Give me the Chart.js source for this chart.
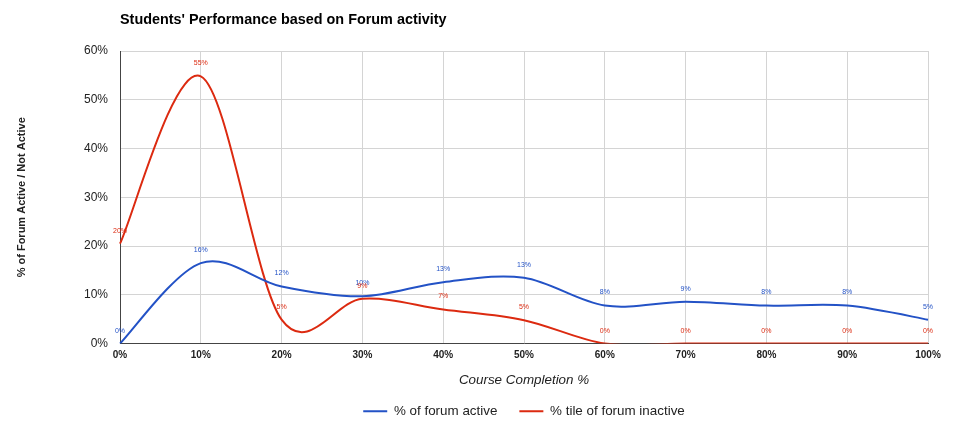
<!DOCTYPE html>
<html>
<head>
<meta charset="utf-8">
<script src="https://cdn.jsdelivr.net/npm/chart.js@4"></script>
<style>
  html, body { margin: 0; padding: 0; background: #fff; }
  #wrap { width: 975px; height: 423px; }
</style>
</head>
<body>
<div id="wrap"><canvas id="chart"></canvas></div>
<script>
// ── Data ──────────────────────────────────
const completion  = ['0%', '10%', '20%', '30%', '40%', '50%', '60%', '70%', '80%', '90%', '100%'];
const forumActive = [0, 16.5, 11.7, 9.7, 12.6, 13.5, 7.8, 8.6, 7.8, 7.8, 4.9];
const forumInactive = [20.5, 54.8, 4.9, 9.2, 7, 4.8, 0, 0, 0, 0, 0];
const activeLabels   = ['0%', '16%', '12%', '10%', '13%', '13%', '8%', '9%', '8%', '8%', '5%'];
const inactiveLabels = ['20%', '55%', '5%', '9%', '7%', '5%', '0%', '0%', '0%', '0%', '0%'];
const yTicks = [0, 10, 20, 30, 40, 50, 60];

const FONT = 'Arial, "Liberation Sans", sans-serif';
const BLUE = '#2352c6';
const RED  = '#dc2a10';

// ── Title drawn at the plot's left edge ───
const titlePlugin = {
  id: 'leftTitle',
  beforeDraw(chart) {
    // centre the legend on the plot area, not the whole canvas
    const { legend, chartArea } = chart;
    if (legend) {
      legend.left = chartArea.left;
      legend.right = chartArea.right;
    }
  },
  afterDraw(chart) {
    const { ctx, chartArea } = chart;
    ctx.save();
    ctx.font = 'bold 14.4px ' + FONT;
    ctx.fillStyle = '#000';
    ctx.textAlign = 'left';
    ctx.textBaseline = 'middle';
    ctx.fillText("Students' Performance based on Forum activity", chartArea.left, 20);
    ctx.restore();
  }
};

// ── Catmull-Rom smoothing (uniform in x) ──
const smoothPlugin = {
  id: 'catmullRom',
  beforeDatasetsDraw(chart) {
    chart.data.datasets.forEach((ds, di) => {
      const meta = chart.getDatasetMeta(di);
      meta.dataset.updateControlPoints(chart.chartArea);
      const pts = meta.data;
      pts.forEach((p, i) => {
        const prev = pts[Math.max(i - 1, 0)];
        const next = pts[Math.min(i + 1, pts.length - 1)];
        const dx = (next.x - prev.x) / 6;
        const dy = (next.y - prev.y) / 6;
        p.cp1x = p.x - dx; p.cp1y = p.y - dy;
        p.cp2x = p.x + dx; p.cp2y = p.y + dy;
      });
    });
  }
};

// ── Point value labels ────────────────────
const valueLabels = [activeLabels, inactiveLabels];
const pointLabelPlugin = {
  id: 'pointLabels',
  afterDatasetsDraw(chart) {
    const { ctx } = chart;
    ctx.save();
    ctx.font = '7px ' + FONT;
    ctx.textAlign = 'center';
    ctx.textBaseline = 'middle';
    chart.data.datasets.forEach((ds, di) => {
      const meta = chart.getDatasetMeta(di);
      ctx.fillStyle = ds.borderColor;
      meta.data.forEach((pt, i) => {
        ctx.fillText(valueLabels[di][i], pt.x, pt.y - 13);
      });
    });
    ctx.restore();
  }
};

new Chart(document.getElementById('chart'), {
  type: 'line',
  data: {
    labels: completion,
    datasets: [
      {
        label: '% of forum active',
        data: forumActive,
        borderColor: BLUE,
        backgroundColor: BLUE,
        borderWidth: 2,
        tension: 0.4,
        pointRadius: 0
      },
      {
        label: '% tile of forum inactive',
        data: forumInactive,
        borderColor: RED,
        backgroundColor: RED,
        borderWidth: 2,
        tension: 0.4,
        pointRadius: 0
      }
    ]
  },
  options: {
    responsive: true,
    maintainAspectRatio: false,
    animation: false,
    layout: { padding: { top: 51, right: 47, left: 11, bottom: -5 } },
    plugins: {
      legend: {
        position: 'bottom',
        labels: {
          font: { family: FONT, size: 13.4 },
          color: '#222',
          boxWidth: 24,
          boxHeight: 0,
          padding: 22
        }
      },
      tooltip: { enabled: false },
      title: { display: false }
    },
    scales: {
      x: {
        grid: { color: '#d4d4d4', drawTicks: false },
        border: { color: '#444' },
        ticks: { color: '#222', font: { family: FONT, size: 10, weight: 'bold' }, padding: 6, maxRotation: 0 },
        title: {
          display: true,
          text: 'Course Completion %',
          color: '#222',
          font: { family: FONT, size: 13.4, style: 'italic' },
          padding: { top: 0, bottom: -6 }
        },
        afterFit(axis) { axis.height = 39; }
      },
      y: {
        min: 0,
        max: 60,
        afterBuildTicks(axis) { axis.ticks = yTicks.map(v => ({ value: v })); },
        grid: { color: '#d4d4d4', drawTicks: false },
        border: { color: '#444' },
        ticks: { color: '#222', font: { family: FONT, size: 12 }, padding: 12, callback: v => v + '%' },
        title: {
          display: true,
          text: '% of Forum Active / Not Active',
          color: '#222',
          font: { family: FONT, size: 11, weight: 'bold' },
          padding: 4
        },
        afterFit(axis) { axis.width = 109; }
      }
    }
  },
  plugins: [titlePlugin, smoothPlugin, pointLabelPlugin]
});
</script>
</body>
</html>
